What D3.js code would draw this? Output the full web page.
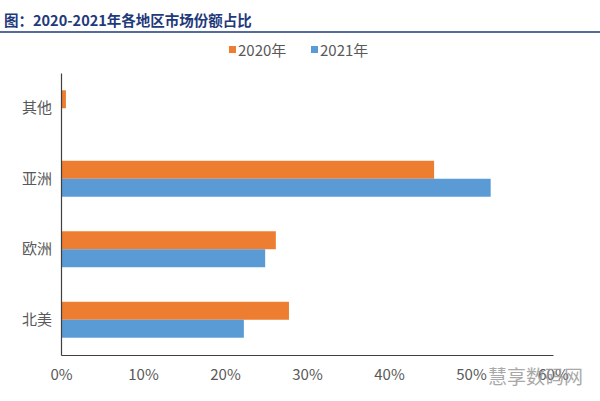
<!DOCTYPE html>
<html><head><meta charset="utf-8">
<script src="https://cdn.jsdelivr.net/npm/d3@7"></script>
<style>html,body{margin:0;padding:0;background:#fff;}svg{display:block;}</style>
</head><body>
<svg id="c" width="600" height="401"></svg>
<script>
const categories = ["其他", "亚洲", "欧洲", "北美"];
const seriesNames = ["2020年", "2021年"];
const values2020 = [0.6, 45.5, 26.2, 27.8];
const values2021 = [0.1, 52.4, 24.9, 22.3];
const xTicks = [0, 10, 20, 30, 40, 50, 60];
const colors = ["#ED7D31", "#5B9BD5"];

(function () {
const svg = d3.select("#c");
const font = "'Microsoft YaHei','Noto Sans CJK SC','Noto Sans',sans-serif";

// title
svg.append("text").attr("x", 4).attr("y", 26)
  .attr("font-family", font).attr("font-size", 14.5).attr("font-weight", "bold")
  .attr("fill", "#1F3A7A").text("图：2020-2021年各地区市场份额占比");
svg.append("line").attr("x1", 0).attr("x2", 600).attr("y1", 32).attr("y2", 32)
  .attr("stroke", "#1F3A7A").attr("stroke-width", 1.5);

const mLeft = 61, mRight = 553, mTop = 73, mBottom = 355;
const x = d3.scaleLinear().domain([0, 60]).range([mLeft, mRight]);
const y = d3.scaleBand().domain(categories).range([mTop, mBottom]).paddingInner(0.49).paddingOuter(0.245);
const yInner = d3.scaleBand().domain(seriesNames).range([0, y.bandwidth()]);

const data = categories.map((c, i) => ({cat: c, vals: [values2020[i], values2021[i]]}));
const g = svg.append("g");
data.forEach(d => {
  d.vals.forEach((v, k) => {
    g.append("rect")
      .attr("x", x(0)).attr("y", y(d.cat) + yInner(seriesNames[k]))
      .attr("width", x(v) - x(0)).attr("height", yInner.bandwidth())
      .attr("fill", colors[k]);
  });
});

// x axis
const xAxis = svg.append("g").attr("transform", `translate(0,${mBottom})`)
  .call(d3.axisBottom(x).tickValues(xTicks).tickFormat(d => d + "%").tickSize(0).tickPadding(14));
xAxis.select(".domain").attr("stroke", "#404040").attr("stroke-width", 1.2);
xAxis.selectAll("text").attr("font-family", font).attr("font-size", 15).attr("fill", "#595959");

// y axis
const yAxis = svg.append("g").attr("transform", `translate(${mLeft},0)`)
  .call(d3.axisLeft(y).tickSize(0).tickPadding(9));
yAxis.select(".domain").attr("stroke", "#404040").attr("stroke-width", 1.2);
yAxis.selectAll("text").attr("font-family", font).attr("font-size", 15).attr("fill", "#595959");

// legend
const legendX = [229, 311];
seriesNames.forEach((s, k) => {
  svg.append("rect").attr("x", legendX[k]).attr("y", 46).attr("width", 7).attr("height", 7).attr("fill", colors[k]);
  svg.append("text").attr("x", legendX[k] + 9).attr("y", 55.5)
    .attr("font-family", font).attr("font-size", 15).attr("fill", "#595959").text(s);
});

// watermark
svg.append("text").attr("x", 488).attr("y", 384)
  .attr("font-family", font).attr("font-size", 19).attr("fill", "#9a9a9a").attr("opacity", 0.85)
  .text("慧享数码网");
})();
</script>
</body></html>
